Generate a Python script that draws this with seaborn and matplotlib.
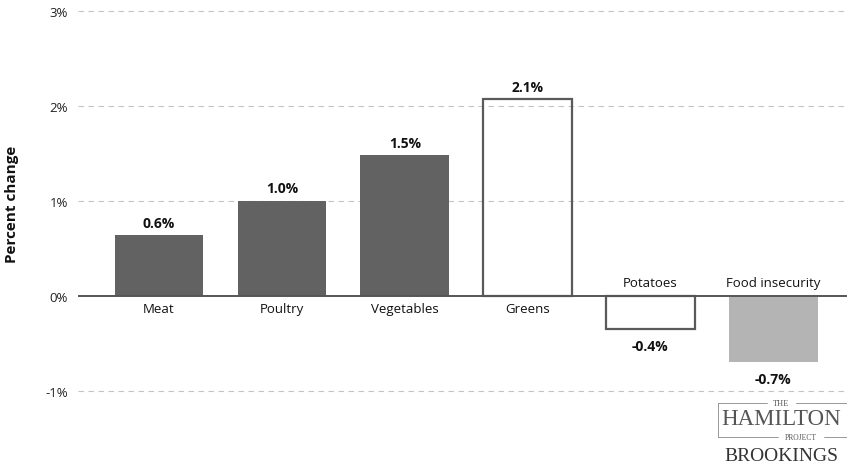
import matplotlib
matplotlib.use("Agg")
import matplotlib.pyplot as plt
import seaborn as sns
import pandas as pd

categories = ["Meat", "Poultry", "Vegetables", "Greens", "Potatoes", "Food insecurity"]
values = [0.64, 1.0, 1.48, 2.07, -0.35, -0.70]
value_labels = ["0.6%", "1.0%", "1.5%", "2.1%", "-0.4%", "-0.7%"]
yticks = [-1, 0, 1, 2, 3]
ytick_labels = ["-1%", "0%", "1%", "2%", "3%"]

fills = ["#626262", "#626262", "#626262", "none", "none", "#b4b4b4"]
edges = ["#626262", "#626262", "#626262", "#5a5a5a", "#5a5a5a", "#b4b4b4"]

sns.set_theme(style="white")
plt.rcParams["font.family"] = ["Open Sans", "DejaVu Sans"]

df = pd.DataFrame({"category": categories, "value": values})

fig = plt.figure(figsize=(8.47, 4.64), dpi=100)
ax = fig.add_axes([0.092, 0.1347, 0.908, 0.8497])

sns.barplot(data=df, x="category", y="value", hue="category", order=categories,
            palette=["#626262"] * len(categories), legend=False, width=0.72,
            saturation=1, ax=ax, zorder=2)

for patch, fc, ec in zip(ax.patches, fills, edges):
    patch.set_facecolor(fc)
    patch.set_edgecolor(ec)
    patch.set_linewidth(1.6 if fc == "none" else 0)

ax.set_ylim(-1.1, 3.05)
ax.set_xlim(-0.66, 5.6)
ax.set_yticks(yticks)
ax.set_yticklabels(ytick_labels, fontsize=9.5, color="#222222")
ax.tick_params(axis="y", length=0, pad=7)
ax.set_xticks([])
ax.set_xlabel("")
ax.set_ylabel("Percent change", fontsize=11, fontweight="bold", color="#111111")
ax.yaxis.set_label_coords(-0.076, 0.5)

for y in yticks:
    if y == 0:
        continue
    ax.axhline(y, color="#c4c4c4", lw=0.8, ls=(0, (5, 4)), zorder=0)
ax.axhline(0, color="#555555", lw=1.4, zorder=3)

for s in ax.spines.values():
    s.set_visible(False)

for i, (cat, v, lab) in enumerate(zip(categories, values, value_labels)):
    if v >= 0:
        ax.annotate(lab, (i, v), xytext=(0, 4), textcoords="offset points",
                    ha="center", va="bottom", fontsize=10, fontweight="bold", color="#111111")
        ax.annotate(cat, (i, 0), xytext=(0, -4), textcoords="offset points",
                    ha="center", va="top", fontsize=9.5, color="#111111")
    else:
        ax.annotate(lab, (i, v), xytext=(0, -7), textcoords="offset points",
                    ha="center", va="top", fontsize=10, fontweight="bold", color="#111111")
        ax.annotate(cat, (i, 0), xytext=(0, 5), textcoords="offset points",
                    ha="center", va="bottom", fontsize=9.5, color="#111111")

# Publisher mark in the lower right corner
serif = ["Liberation Serif", "DejaVu Serif"]
fig.text(0.922, 0.129, "THE", ha="center", va="center", fontsize=6, color="#555555", family=serif)
fig.text(0.922, 0.083, "HAMILTON", ha="center", va="baseline", fontsize=16.5, color="#555555", family=serif)
fig.text(0.945, 0.057, "PROJECT", ha="center", va="center", fontsize=5.5, color="#555555", family=serif)
fig.text(0.922, 0.016, "BROOKINGS", ha="center", va="center", fontsize=14, color="#333333", family=serif)
fig.add_artist(plt.Line2D([0.848, 0.905], [0.129, 0.129], color="#888888", lw=0.6))
fig.add_artist(plt.Line2D([0.940, 1.0], [0.129, 0.129], color="#888888", lw=0.6))
fig.add_artist(plt.Line2D([0.848, 0.918], [0.057, 0.057], color="#888888", lw=0.6))
fig.add_artist(plt.Line2D([0.973, 1.0], [0.057, 0.057], color="#888888", lw=0.6))
fig.add_artist(plt.Line2D([0.848, 0.848], [0.057, 0.129], color="#888888", lw=0.6))

fig.savefig("out.png", dpi=100)
